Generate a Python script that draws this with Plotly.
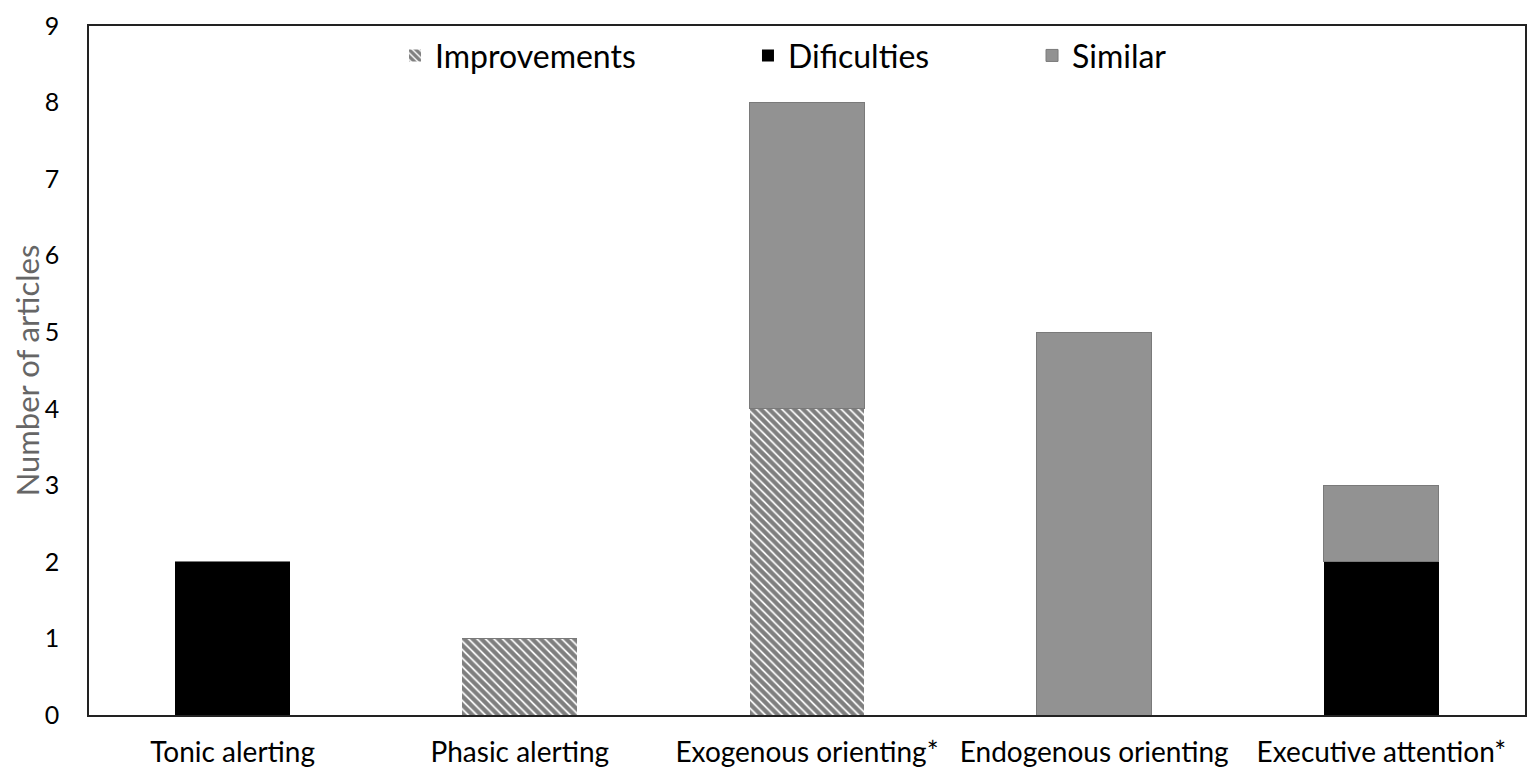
import plotly.graph_objects as go

categories = ["Tonic alerting", "Phasic alerting", "Exogenous orienting*", "Endogenous orienting", "Executive attention*"]
improvements = [0, 1, 4, 0, 0]
difficulties = [2, 0, 0, 0, 2]
similar = [0, 0, 4, 5, 1]
y_ticks = [0, 1, 2, 3, 4, 5, 6, 7, 8, 9]

FONT = "Lato"

fig = go.Figure()
fig.add_trace(go.Bar(
    x=categories, y=improvements, name="Improvements", legend="legend",
    marker=dict(color="white", line=dict(color="white", width=0),
                pattern=dict(shape="\\", fgcolor="black", bgcolor="white", size=6, solidity=0.7)),
))
fig.add_trace(go.Bar(
    x=categories, y=difficulties, name="Dificulties", legend="legend2",
    marker=dict(color="black", line=dict(color="black", width=0)),
))
fig.add_trace(go.Bar(
    x=categories, y=similar, name="Similar", legend="legend3",
    marker=dict(color="#929292", line=dict(color="#7a7a7a", width=1)),
))

leg = dict(orientation="h", xanchor="left", y=0.957, yanchor="middle",
           font=dict(size=32, family=FONT, color="black"), bgcolor="rgba(0,0,0,0)")

fig.update_layout(
    barmode="stack",
    bargap=0.6,
    width=1527, height=768,
    margin=dict(l=81, r=10, t=18, b=61),
    paper_bgcolor="white", plot_bgcolor="white",
    font=dict(family=FONT, color="black", size=26),
    showlegend=True,
    legend=dict(leg, x=0.2131),
    legend2=dict(leg, x=0.4589),
    legend3=dict(leg, x=0.6567),
    xaxis=dict(showline=True, mirror=True, linecolor="#222", linewidth=1.5,
               ticks="", tickfont=dict(size=28, family=FONT), ticklabelstandoff=12,
               showgrid=False, automargin=False, ticklabeloverflow="allow"),
    yaxis=dict(range=[0, 9], tickvals=y_ticks, showline=True, mirror=True, linecolor="#222",
               linewidth=1.5, ticks="", showgrid=False, zeroline=False, automargin=False,
               ticklabeloverflow="allow",
               tickfont=dict(size=25, family=FONT), ticklabelstandoff=23,
               title=dict(text="Number of articles", font=dict(size=31, color="#666", family=FONT), standoff=7)),
)

fig.write_html("out.html")
